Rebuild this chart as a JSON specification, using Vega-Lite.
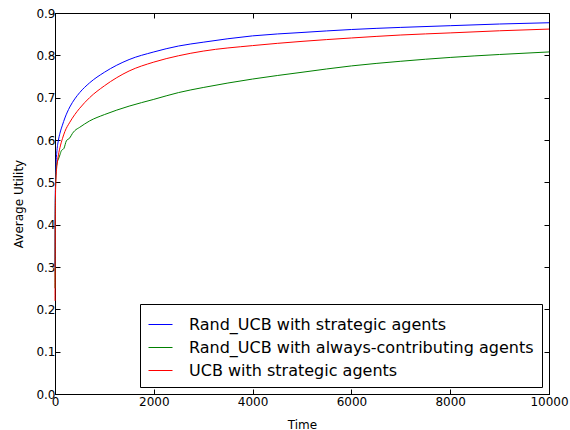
{
  "$schema": "https://vega.github.io/schema/vega-lite/v6.json",
  "width": 494,
  "height": 381,
  "autosize": "none",
  "padding": {"left": 55, "top": 13, "right": 21, "bottom": 36},
  "background": "white",
  "config": {
    "font": "DejaVu Sans",
    "view": {"stroke": "black", "strokeWidth": 1},
    "axis": {
      "grid": false,
      "domainColor": "black",
      "tickColor": "black",
      "labelColor": "black",
      "titleColor": "black",
      "labelFont": "DejaVu Sans",
      "titleFont": "DejaVu Sans",
      "labelFontSize": 12,
      "titleFontSize": 12,
      "titleFontWeight": "normal",
      "tickSize": -5,
      "labelPadding": 5,
      "labelFlush": false,
      "labelOverlap": false
    }
  },
  "data": {
    "values": [
      {"t": 1, "v": 0.30, "s": "Rand_UCB with strategic agents"},
      {"t": 5, "v": 0.45, "s": "Rand_UCB with strategic agents"},
      {"t": 10, "v": 0.50, "s": "Rand_UCB with strategic agents"},
      {"t": 20, "v": 0.54, "s": "Rand_UCB with strategic agents"},
      {"t": 40, "v": 0.575, "s": "Rand_UCB with strategic agents"},
      {"t": 70, "v": 0.60, "s": "Rand_UCB with strategic agents"},
      {"t": 100, "v": 0.616, "s": "Rand_UCB with strategic agents"},
      {"t": 150, "v": 0.635, "s": "Rand_UCB with strategic agents"},
      {"t": 200, "v": 0.652, "s": "Rand_UCB with strategic agents"},
      {"t": 300, "v": 0.678, "s": "Rand_UCB with strategic agents"},
      {"t": 400, "v": 0.697, "s": "Rand_UCB with strategic agents"},
      {"t": 500, "v": 0.712, "s": "Rand_UCB with strategic agents"},
      {"t": 700, "v": 0.735, "s": "Rand_UCB with strategic agents"},
      {"t": 1000, "v": 0.760, "s": "Rand_UCB with strategic agents"},
      {"t": 1500, "v": 0.790, "s": "Rand_UCB with strategic agents"},
      {"t": 2000, "v": 0.808, "s": "Rand_UCB with strategic agents"},
      {"t": 2500, "v": 0.822, "s": "Rand_UCB with strategic agents"},
      {"t": 3000, "v": 0.831, "s": "Rand_UCB with strategic agents"},
      {"t": 4000, "v": 0.846, "s": "Rand_UCB with strategic agents"},
      {"t": 5000, "v": 0.854, "s": "Rand_UCB with strategic agents"},
      {"t": 6000, "v": 0.861, "s": "Rand_UCB with strategic agents"},
      {"t": 7000, "v": 0.866, "s": "Rand_UCB with strategic agents"},
      {"t": 8000, "v": 0.870, "s": "Rand_UCB with strategic agents"},
      {"t": 9000, "v": 0.874, "s": "Rand_UCB with strategic agents"},
      {"t": 10000, "v": 0.877, "s": "Rand_UCB with strategic agents"},

      {"t": 1, "v": 0.25, "s": "Rand_UCB with always-contributing agents"},
      {"t": 5, "v": 0.42, "s": "Rand_UCB with always-contributing agents"},
      {"t": 10, "v": 0.48, "s": "Rand_UCB with always-contributing agents"},
      {"t": 20, "v": 0.52, "s": "Rand_UCB with always-contributing agents"},
      {"t": 40, "v": 0.545, "s": "Rand_UCB with always-contributing agents"},
      {"t": 70, "v": 0.555, "s": "Rand_UCB with always-contributing agents"},
      {"t": 100, "v": 0.565, "s": "Rand_UCB with always-contributing agents"},
      {"t": 130, "v": 0.575, "s": "Rand_UCB with always-contributing agents"},
      {"t": 180, "v": 0.58, "s": "Rand_UCB with always-contributing agents"},
      {"t": 230, "v": 0.598, "s": "Rand_UCB with always-contributing agents"},
      {"t": 300, "v": 0.605, "s": "Rand_UCB with always-contributing agents"},
      {"t": 350, "v": 0.615, "s": "Rand_UCB with always-contributing agents"},
      {"t": 400, "v": 0.622, "s": "Rand_UCB with always-contributing agents"},
      {"t": 500, "v": 0.630, "s": "Rand_UCB with always-contributing agents"},
      {"t": 700, "v": 0.645, "s": "Rand_UCB with always-contributing agents"},
      {"t": 1000, "v": 0.660, "s": "Rand_UCB with always-contributing agents"},
      {"t": 1500, "v": 0.680, "s": "Rand_UCB with always-contributing agents"},
      {"t": 2000, "v": 0.696, "s": "Rand_UCB with always-contributing agents"},
      {"t": 2500, "v": 0.712, "s": "Rand_UCB with always-contributing agents"},
      {"t": 3000, "v": 0.724, "s": "Rand_UCB with always-contributing agents"},
      {"t": 4000, "v": 0.744, "s": "Rand_UCB with always-contributing agents"},
      {"t": 5000, "v": 0.760, "s": "Rand_UCB with always-contributing agents"},
      {"t": 6000, "v": 0.775, "s": "Rand_UCB with always-contributing agents"},
      {"t": 7000, "v": 0.786, "s": "Rand_UCB with always-contributing agents"},
      {"t": 8000, "v": 0.795, "s": "Rand_UCB with always-contributing agents"},
      {"t": 9000, "v": 0.802, "s": "Rand_UCB with always-contributing agents"},
      {"t": 10000, "v": 0.808, "s": "Rand_UCB with always-contributing agents"},

      {"t": 1, "v": 0.22, "s": "UCB with strategic agents"},
      {"t": 5, "v": 0.40, "s": "UCB with strategic agents"},
      {"t": 10, "v": 0.47, "s": "UCB with strategic agents"},
      {"t": 20, "v": 0.51, "s": "UCB with strategic agents"},
      {"t": 40, "v": 0.54, "s": "UCB with strategic agents"},
      {"t": 70, "v": 0.565, "s": "UCB with strategic agents"},
      {"t": 100, "v": 0.582, "s": "UCB with strategic agents"},
      {"t": 150, "v": 0.603, "s": "UCB with strategic agents"},
      {"t": 200, "v": 0.620, "s": "UCB with strategic agents"},
      {"t": 300, "v": 0.642, "s": "UCB with strategic agents"},
      {"t": 400, "v": 0.660, "s": "UCB with strategic agents"},
      {"t": 500, "v": 0.675, "s": "UCB with strategic agents"},
      {"t": 700, "v": 0.700, "s": "UCB with strategic agents"},
      {"t": 1000, "v": 0.728, "s": "UCB with strategic agents"},
      {"t": 1500, "v": 0.763, "s": "UCB with strategic agents"},
      {"t": 2000, "v": 0.784, "s": "UCB with strategic agents"},
      {"t": 2500, "v": 0.799, "s": "UCB with strategic agents"},
      {"t": 3000, "v": 0.810, "s": "UCB with strategic agents"},
      {"t": 4000, "v": 0.823, "s": "UCB with strategic agents"},
      {"t": 5000, "v": 0.833, "s": "UCB with strategic agents"},
      {"t": 6000, "v": 0.841, "s": "UCB with strategic agents"},
      {"t": 7000, "v": 0.848, "s": "UCB with strategic agents"},
      {"t": 8000, "v": 0.853, "s": "UCB with strategic agents"},
      {"t": 9000, "v": 0.858, "s": "UCB with strategic agents"},
      {"t": 10000, "v": 0.862, "s": "UCB with strategic agents"}
    ]
  },
  "layer": [
    {
      "mark": {"type": "line", "strokeWidth": 1, "interpolate": "monotone"},
      "encoding": {
        "x": {"field": "t", "type": "quantitative", "scale": {"domain": [0, 10000], "nice": false},
              "axis": {"title": "Time", "values": [0, 2000, 4000, 6000, 8000, 10000], "format": "d", "titlePadding": 12, "labelPadding": 7}},
        "y": {"field": "v", "type": "quantitative", "scale": {"domain": [0, 0.9], "nice": false, "zero": false},
              "axis": {"title": "Average Utility", "values": [0, 0.1, 0.2, 0.3, 0.4, 0.5, 0.6, 0.7, 0.8, 0.9], "format": ".1f", "titlePadding": 10, "labelPadding": 5}},
        "color": {"field": "s", "type": "nominal", "sort": null,
          "scale": {"domain": ["Rand_UCB with strategic agents", "Rand_UCB with always-contributing agents", "UCB with strategic agents"], "range": ["#0000ff", "#008000", "#ff0000"]},
          "legend": {"title": null, "orient": "bottom-right", "offset": 7, "symbolType": "stroke", "symbolSize": 576, "symbolStrokeWidth": 1,
            "labelFontSize": 16, "labelFont": "DejaVu Sans", "labelColor": "black", "labelLimit": 0, "strokeColor": "black", "fillColor": "white",
            "padding": 8, "rowPadding": 2, "labelOffset": 16, "cornerRadius": 0}}
      }
    },
    {
      "mark": {"type": "line", "opacity": 0},
      "encoding": {
        "x": {"field": "t", "type": "quantitative", "scale": {"domain": [0, 10000], "nice": false},
              "axis": {"orient": "top", "title": null, "labels": false, "values": [0, 2000, 4000, 6000, 8000, 10000]}},
        "y": {"field": "v", "type": "quantitative", "scale": {"domain": [0, 0.9], "nice": false, "zero": false},
              "axis": {"orient": "right", "title": null, "labels": false, "values": [0, 0.1, 0.2, 0.3, 0.4, 0.5, 0.6, 0.7, 0.8, 0.9]}},
        "detail": {"field": "s"}
      }
    }
  ],
  "resolve": {"axis": {"x": "independent", "y": "independent"}}
}
